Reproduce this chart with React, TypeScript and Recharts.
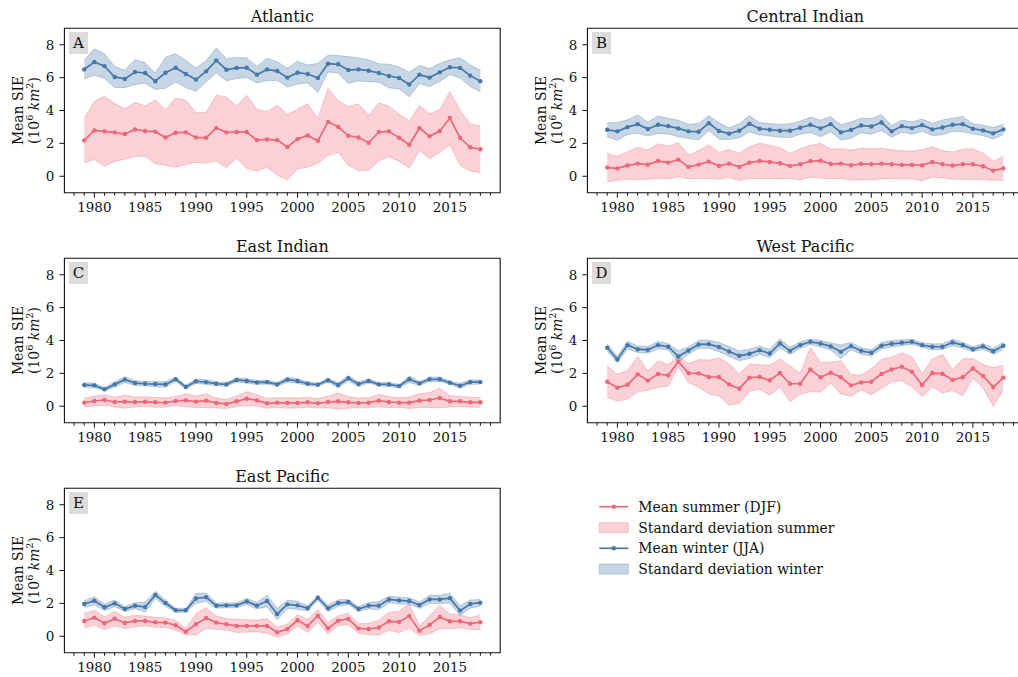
import React from "react";
import { ComposedChart, Area, Line, XAxis, YAxis, ReferenceArea } from "recharts";

// ---- data -------------------------------------------------------------
const years = [
  1979, 1980, 1981, 1982, 1983, 1984, 1985, 1986, 1987, 1988,
  1989, 1990, 1991, 1992, 1993, 1994, 1995, 1996, 1997, 1998,
  1999, 2000, 2001, 2002, 2003, 2004, 2005, 2006, 2007, 2008,
  2009, 2010, 2011, 2012, 2013, 2014, 2015, 2016, 2017, 2018,
];
const yearLabels = [1980, 1985, 1990, 1995, 2000, 2005, 2010, 2015];
const yTicks = [0, 2, 4, 6, 8];

// Atlantic
const atlSummerMean = [2.18, 2.79, 2.73, 2.67, 2.57, 2.85, 2.75, 2.71, 2.36, 2.65, 2.67, 2.36, 2.34, 2.93, 2.67, 2.69, 2.69, 2.2, 2.24, 2.2, 1.78, 2.26, 2.48, 2.16, 3.31, 3.01, 2.46, 2.36, 2.04, 2.69, 2.73, 2.34, 1.92, 2.93, 2.44, 2.75, 3.54, 2.34, 1.76, 1.64];
const atlSummerStd = [1.37, 1.77, 2.14, 1.75, 1.54, 1.65, 1.53, 1.95, 1.69, 2.11, 1.95, 1.52, 1.54, 2.02, 2.15, 1.58, 2.23, 1.88, 1.69, 2.14, 1.99, 1.82, 1.93, 1.37, 2.04, 1.57, 1.8, 2.03, 1.67, 1.77, 1.54, 1.44, 1.44, 1.37, 1.37, 1.3, 1.62, 1.69, 1.44, 1.42];
const atlWinterMean = [6.5, 6.95, 6.7, 6.04, 5.92, 6.34, 6.28, 5.78, 6.3, 6.6, 6.22, 5.88, 6.38, 7.05, 6.48, 6.59, 6.6, 6.18, 6.5, 6.4, 6.0, 6.3, 6.22, 5.98, 6.85, 6.81, 6.46, 6.5, 6.42, 6.28, 6.1, 5.98, 5.58, 6.18, 6.0, 6.32, 6.63, 6.59, 6.12, 5.78];
const atlWinterStd = [0.58, 0.8, 0.75, 0.64, 0.53, 0.76, 0.62, 0.5, 0.94, 0.86, 0.83, 0.71, 0.64, 0.76, 0.68, 0.64, 0.6, 0.5, 0.68, 0.57, 0.57, 0.69, 0.54, 0.89, 0.51, 0.53, 0.82, 0.7, 0.67, 0.56, 0.72, 0.67, 0.75, 0.56, 0.55, 0.55, 0.45, 0.62, 0.66, 0.65];

// Central Indian
const ciSummerMean = [0.53, 0.48, 0.65, 0.77, 0.71, 0.93, 0.83, 1.01, 0.57, 0.71, 0.89, 0.63, 0.77, 0.57, 0.83, 0.93, 0.87, 0.79, 0.63, 0.73, 0.91, 0.95, 0.75, 0.77, 0.67, 0.75, 0.73, 0.77, 0.73, 0.69, 0.69, 0.67, 0.87, 0.73, 0.65, 0.73, 0.73, 0.61, 0.34, 0.48];
const ciSummerStd = [0.86, 0.73, 0.84, 0.99, 0.89, 1.05, 1.0, 1.04, 0.73, 0.85, 1.03, 0.82, 0.85, 0.83, 0.96, 1.08, 1.02, 0.95, 0.76, 0.96, 0.97, 1.06, 0.91, 0.9, 0.92, 0.96, 0.95, 0.93, 0.88, 0.86, 0.85, 0.94, 0.92, 0.83, 0.83, 0.92, 0.94, 0.81, 0.58, 0.73];
const ciWinterMean = [2.83, 2.73, 2.99, 3.17, 2.87, 3.13, 3.05, 2.91, 2.73, 2.71, 3.23, 2.75, 2.59, 2.77, 3.19, 2.89, 2.83, 2.77, 2.77, 2.95, 3.13, 2.91, 3.17, 2.67, 2.81, 3.09, 3.03, 3.27, 2.73, 3.05, 2.93, 3.11, 2.85, 2.97, 3.13, 3.17, 2.89, 2.79, 2.61, 2.85];
const ciWinterStd = [0.42, 0.54, 0.44, 0.56, 0.42, 0.53, 0.48, 0.5, 0.43, 0.5, 0.45, 0.5, 0.36, 0.43, 0.5, 0.37, 0.38, 0.39, 0.42, 0.4, 0.47, 0.5, 0.47, 0.46, 0.5, 0.44, 0.48, 0.48, 0.35, 0.37, 0.38, 0.37, 0.37, 0.45, 0.4, 0.47, 0.31, 0.32, 0.35, 0.31];

// East Indian
const eiSummerMean = [0.22, 0.32, 0.38, 0.26, 0.28, 0.26, 0.28, 0.24, 0.22, 0.32, 0.36, 0.28, 0.34, 0.2, 0.14, 0.3, 0.46, 0.36, 0.18, 0.22, 0.2, 0.2, 0.24, 0.18, 0.26, 0.3, 0.24, 0.2, 0.22, 0.34, 0.26, 0.22, 0.22, 0.34, 0.38, 0.5, 0.3, 0.3, 0.24, 0.24];
const eiSummerStd = [0.26, 0.3, 0.32, 0.3, 0.4, 0.3, 0.3, 0.3, 0.28, 0.28, 0.4, 0.35, 0.42, 0.3, 0.28, 0.32, 0.42, 0.35, 0.3, 0.3, 0.32, 0.3, 0.3, 0.28, 0.35, 0.5, 0.35, 0.3, 0.3, 0.38, 0.33, 0.3, 0.35, 0.42, 0.45, 0.6, 0.35, 0.3, 0.3, 0.3];
const eiWinterMean = [1.29, 1.27, 1.03, 1.33, 1.62, 1.41, 1.37, 1.35, 1.33, 1.64, 1.17, 1.52, 1.47, 1.37, 1.33, 1.6, 1.54, 1.45, 1.47, 1.33, 1.62, 1.54, 1.37, 1.31, 1.58, 1.29, 1.7, 1.35, 1.54, 1.33, 1.33, 1.23, 1.64, 1.39, 1.64, 1.64, 1.43, 1.25, 1.47, 1.47];
const eiWinterStd = [0.14, 0.15, 0.1, 0.16, 0.18, 0.14, 0.13, 0.16, 0.17, 0.12, 0.12, 0.13, 0.14, 0.12, 0.12, 0.13, 0.14, 0.12, 0.12, 0.12, 0.16, 0.14, 0.12, 0.1, 0.12, 0.15, 0.16, 0.14, 0.12, 0.1, 0.13, 0.1, 0.2, 0.12, 0.14, 0.14, 0.1, 0.14, 0.14, 0.12];

// West Pacific
const wpSummerMean = [1.49, 1.13, 1.31, 1.94, 1.56, 1.96, 1.88, 2.71, 2.02, 2.0, 1.78, 1.78, 1.33, 1.07, 1.74, 1.78, 1.58, 2.02, 1.37, 1.37, 2.24, 1.76, 2.04, 1.76, 1.27, 1.45, 1.49, 1.96, 2.24, 2.4, 2.1, 1.29, 2.02, 1.98, 1.6, 1.76, 2.3, 1.84, 1.17, 1.74];
const wpSummerStd = [0.96, 0.81, 0.88, 1.08, 0.58, 0.81, 0.65, 0.3, 0.58, 0.84, 1.03, 1.16, 1.26, 0.91, 0.83, 0.75, 0.91, 0.86, 1.09, 0.64, 1.35, 0.91, 0.64, 1.01, 0.66, 0.45, 0.79, 0.9, 0.74, 0.86, 0.91, 0.69, 0.85, 1.18, 0.64, 1.13, 0.6, 0.71, 1.18, 0.74];
const wpWinterMean = [3.56, 2.85, 3.72, 3.47, 3.43, 3.72, 3.62, 3.03, 3.39, 3.76, 3.78, 3.6, 3.33, 3.07, 3.19, 3.41, 3.21, 3.82, 3.37, 3.72, 3.92, 3.82, 3.64, 3.31, 3.66, 3.37, 3.25, 3.68, 3.8, 3.86, 3.92, 3.72, 3.62, 3.62, 3.88, 3.72, 3.47, 3.64, 3.35, 3.68];
const wpWinterStd = [0.22, 0.2, 0.24, 0.2, 0.2, 0.22, 0.2, 0.35, 0.22, 0.25, 0.25, 0.28, 0.3, 0.3, 0.28, 0.25, 0.25, 0.28, 0.22, 0.2, 0.17, 0.2, 0.22, 0.42, 0.22, 0.2, 0.2, 0.2, 0.2, 0.18, 0.15, 0.15, 0.18, 0.18, 0.2, 0.18, 0.15, 0.18, 0.18, 0.22];

// East Pacific
const epSummerMean = [0.93, 1.13, 0.79, 1.07, 0.81, 0.93, 0.93, 0.85, 0.83, 0.67, 0.28, 0.73, 1.11, 0.83, 0.73, 0.63, 0.63, 0.63, 0.63, 0.24, 0.44, 0.97, 0.63, 1.25, 0.48, 0.95, 1.05, 0.48, 0.44, 0.53, 0.91, 0.87, 1.23, 0.34, 0.69, 1.17, 0.91, 0.91, 0.77, 0.85];
const epSummerStd = [0.45, 0.45, 0.4, 0.45, 0.35, 0.35, 0.3, 0.3, 0.3, 0.3, 0.2, 0.65, 0.64, 0.4, 0.35, 0.4, 0.38, 0.35, 0.45, 0.3, 0.3, 0.35, 0.4, 0.4, 0.35, 0.3, 0.35, 0.3, 0.35, 0.45, 0.55, 0.65, 0.75, 0.3, 0.55, 0.7, 0.45, 0.4, 0.35, 0.45];
const epWinterMean = [1.96, 2.16, 1.76, 2.0, 1.66, 1.86, 1.78, 2.51, 2.02, 1.58, 1.58, 2.3, 2.38, 1.86, 1.88, 1.88, 2.12, 1.86, 2.14, 1.35, 1.94, 1.88, 1.7, 2.34, 1.7, 2.02, 2.08, 1.66, 1.86, 1.86, 2.24, 2.18, 2.14, 1.9, 2.24, 2.24, 2.32, 1.56, 1.96, 2.04];
const epWinterStd = [0.2, 0.25, 0.2, 0.2, 0.15, 0.18, 0.3, 0.22, 0.2, 0.12, 0.12, 0.3, 0.25, 0.15, 0.15, 0.15, 0.18, 0.2, 0.35, 0.35, 0.25, 0.25, 0.15, 0.15, 0.2, 0.2, 0.15, 0.15, 0.2, 0.25, 0.2, 0.2, 0.2, 0.2, 0.25, 0.25, 0.3, 0.3, 0.25, 0.2];

// ---- styling / layout -------------------------------------------------
const FONT = '"DejaVu Serif", serif';
const INK = "#111";
const SUMMER = "#EE6677";
const WINTER = "#4477AA";
const BAND_ALPHA = 0.3;

const X_DOMAIN: [number, number] = [1977.05, 2019.95];
const Y_DOMAIN: [number, number] = [-1, 9];
const minorTicks = Array.from({ length: 42 }, (_, i) => 1978 + i);

const PLOT_LEFT = 64.4;
const PLOT_TOP = 28.3;
const PLOT_W = 435.8;
const PLOT_H = 164.4;
const Y_AXIS_W = 44;
const X_AXIS_H = 36;
const MARGIN = { top: PLOT_TOP, left: PLOT_LEFT - Y_AXIS_W, right: 8.8, bottom: 0 };
const CHART_W = MARGIN.left + Y_AXIS_W + PLOT_W + MARGIN.right;
const CHART_H = PLOT_TOP + PLOT_H + X_AXIS_H;

type Region = {
  title: string;
  letter: string;
  left: number;
  top: number;
  summerMean: number[];
  summerStd: number[];
  winterMean: number[];
  winterStd: number[];
};

const regions: Region[] = [
  { title: "Atlantic", letter: "A", left: 0, top: 0, summerMean: atlSummerMean, summerStd: atlSummerStd, winterMean: atlWinterMean, winterStd: atlWinterStd },
  { title: "Central Indian", letter: "B", left: 523.3, top: 0, summerMean: ciSummerMean, summerStd: ciSummerStd, winterMean: ciWinterMean, winterStd: ciWinterStd },
  { title: "East Indian", letter: "C", left: 0, top: 230.3, summerMean: eiSummerMean, summerStd: eiSummerStd, winterMean: eiWinterMean, winterStd: eiWinterStd },
  { title: "West Pacific", letter: "D", left: 523.3, top: 230.3, summerMean: wpSummerMean, summerStd: wpSummerStd, winterMean: wpWinterMean, winterStd: wpWinterStd },
  { title: "East Pacific", letter: "E", left: 0, top: 459.5, summerMean: epSummerMean, summerStd: epSummerStd, winterMean: epWinterMean, winterStd: epWinterStd },
];

function buildRows(r: Region) {
  return years.map((year, i) => ({
    year,
    sMean: r.summerMean[i],
    sBand: [r.summerMean[i] - r.summerStd[i], r.summerMean[i] + r.summerStd[i]],
    wMean: r.winterMean[i],
    wBand: [r.winterMean[i] - r.winterStd[i], r.winterMean[i] + r.winterStd[i]],
  }));
}

// Bottom axis: a short tick every year, a longer labelled one every five years.
const YearTick = (props: any) => {
  const { x, y, payload } = props;
  const yr = payload.value as number;
  const major = yearLabels.includes(yr);
  return (
    <g>
      <line x1={x} x2={x} y1={y} y2={y + (major ? 5 : 3)} stroke={INK} strokeWidth={1} />
      {major && (
        <text x={x} y={y + 9.8} dy="0.71em" textAnchor="middle" fontSize={13.5} fontFamily={FONT} fill={INK}>
          {yr}
        </text>
      )}
    </g>
  );
};

function Panel({ region }: { region: Region }) {
  const rows = buildRows(region);
  const cx = PLOT_LEFT + PLOT_W / 2;
  const cy = PLOT_TOP + PLOT_H / 2;
  return (
    <div style={{ position: "absolute", left: region.left, top: region.top, width: CHART_W, height: CHART_H }}>
      <ComposedChart width={CHART_W} height={CHART_H} data={rows} margin={MARGIN}>
        <XAxis
          type="number"
          dataKey="year"
          domain={X_DOMAIN}
          allowDataOverflow
          ticks={minorTicks}
          interval={0}
          height={X_AXIS_H}
          axisLine={false}
          tickLine={false}
          tickSize={0}
          tickMargin={0}
          tick={(p: any) => <YearTick {...p} />}
        />
        <YAxis
          type="number"
          domain={Y_DOMAIN}
          allowDataOverflow
          ticks={yTicks}
          width={Y_AXIS_W}
          axisLine={false}
          tickSize={5}
          tickMargin={5}
          tickLine={{ stroke: INK, strokeWidth: 1 }}
          tick={{ fontSize: 13.5, fontFamily: FONT, fill: INK }}
        />
        <Area
          dataKey="sBand"
          type="linear"
          fill={SUMMER}
          fillOpacity={BAND_ALPHA}
          stroke={SUMMER}
          strokeOpacity={BAND_ALPHA}
          strokeWidth={1}
          dot={false}
          activeDot={false}
          isAnimationActive={false}
        />
        <Area
          dataKey="wBand"
          type="linear"
          fill={WINTER}
          fillOpacity={BAND_ALPHA}
          stroke={WINTER}
          strokeOpacity={BAND_ALPHA}
          strokeWidth={1}
          dot={false}
          activeDot={false}
          isAnimationActive={false}
        />
        <Line
          dataKey="sMean"
          type="linear"
          stroke={SUMMER}
          strokeWidth={1.7}
          dot={{ r: 2.2, fill: SUMMER, stroke: SUMMER, strokeWidth: 0 }}
          activeDot={false}
          isAnimationActive={false}
        />
        <Line
          dataKey="wMean"
          type="linear"
          stroke={WINTER}
          strokeWidth={1.7}
          dot={{ r: 2.2, fill: WINTER, stroke: WINTER, strokeWidth: 0 }}
          activeDot={false}
          isAnimationActive={false}
        />
        <ReferenceArea
          x1={X_DOMAIN[0]}
          x2={X_DOMAIN[1]}
          y1={Y_DOMAIN[0]}
          y2={Y_DOMAIN[1]}
          fill="none"
          stroke={INK}
          strokeWidth={1.1}
          ifOverflow="visible"
        />
      </ComposedChart>
      <svg
        width={CHART_W}
        height={CHART_H}
        style={{ position: "absolute", left: 0, top: 0, pointerEvents: "none", overflow: "visible" }}
      >
        <text x={cx} y={21.7} textAnchor="middle" fontSize={16} fontFamily={FONT} fill={INK}>
          {region.title}
        </text>
        <rect x={PLOT_LEFT + 4.6} y={PLOT_TOP + 3.7} width={19} height={22} fill="#dcdcdc" />
        <text x={PLOT_LEFT + 14.1} y={PLOT_TOP + 20} textAnchor="middle" fontSize={15} fontFamily={FONT} fill={INK}>
          {region.letter}
        </text>
        <text
          transform={`translate(23.3, ${cy}) rotate(-90)`}
          textAnchor="middle"
          fontSize={13.9}
          fontFamily={FONT}
          fill={INK}
        >
          Mean SIE
        </text>
        <text
          transform={`translate(38.8, ${cy}) rotate(-90)`}
          textAnchor="middle"
          fontSize={13.9}
          fontFamily={FONT}
          fill={INK}
        >
          <tspan>(10</tspan>
          <tspan fontSize={9.7} dy={-5.5}>6</tspan>
          <tspan dy={5.5}> </tspan>
          <tspan fontStyle="italic">km</tspan>
          <tspan fontSize={9.7} dy={-5.5}>2</tspan>
          <tspan dy={5.5}>)</tspan>
        </text>
      </svg>
    </div>
  );
}

const legendItems = [
  { label: "Mean summer (DJF)", color: SUMMER, kind: "line" },
  { label: "Standard deviation summer", color: SUMMER, kind: "band" },
  { label: "Mean winter (JJA)", color: WINTER, kind: "line" },
  { label: "Standard deviation winter", color: WINTER, kind: "band" },
];

function SeasonLegend() {
  const rowY = [506.7, 527.7, 548.3, 569];
  return (
    <svg width={1018} height={677} style={{ position: "absolute", left: 0, top: 0, pointerEvents: "none" }}>
      {legendItems.map((it, i) => (
        <g key={it.label}>
          {it.kind === "line" ? (
            <g>
              <line x1={599.3} x2={628.3} y1={rowY[i]} y2={rowY[i]} stroke={it.color} strokeWidth={1.7} />
              <circle cx={613.8} cy={rowY[i]} r={2.2} fill={it.color} />
            </g>
          ) : (
            <rect
              x={599.3}
              y={rowY[i] - 5}
              width={29}
              height={10}
              fill={it.color}
              fillOpacity={BAND_ALPHA}
              stroke={it.color}
              strokeOpacity={BAND_ALPHA}
              strokeWidth={1}
            />
          )}
          <text x={638.3} y={rowY[i]} dominantBaseline="central" fontSize={13.9} fontFamily={FONT} fill={INK}>
            {it.label}
          </text>
        </g>
      ))}
    </svg>
  );
}

export default function App() {
  return (
    <div
      style={{
        position: "absolute",
        left: 0,
        top: 0,
        width: 1018,
        height: 677,
        overflow: "hidden",
        background: "#fff",
        fontFamily: FONT,
      }}
    >
      {regions.map((r) => (
        <Panel key={r.letter} region={r} />
      ))}
      <SeasonLegend />
    </div>
  );
}
